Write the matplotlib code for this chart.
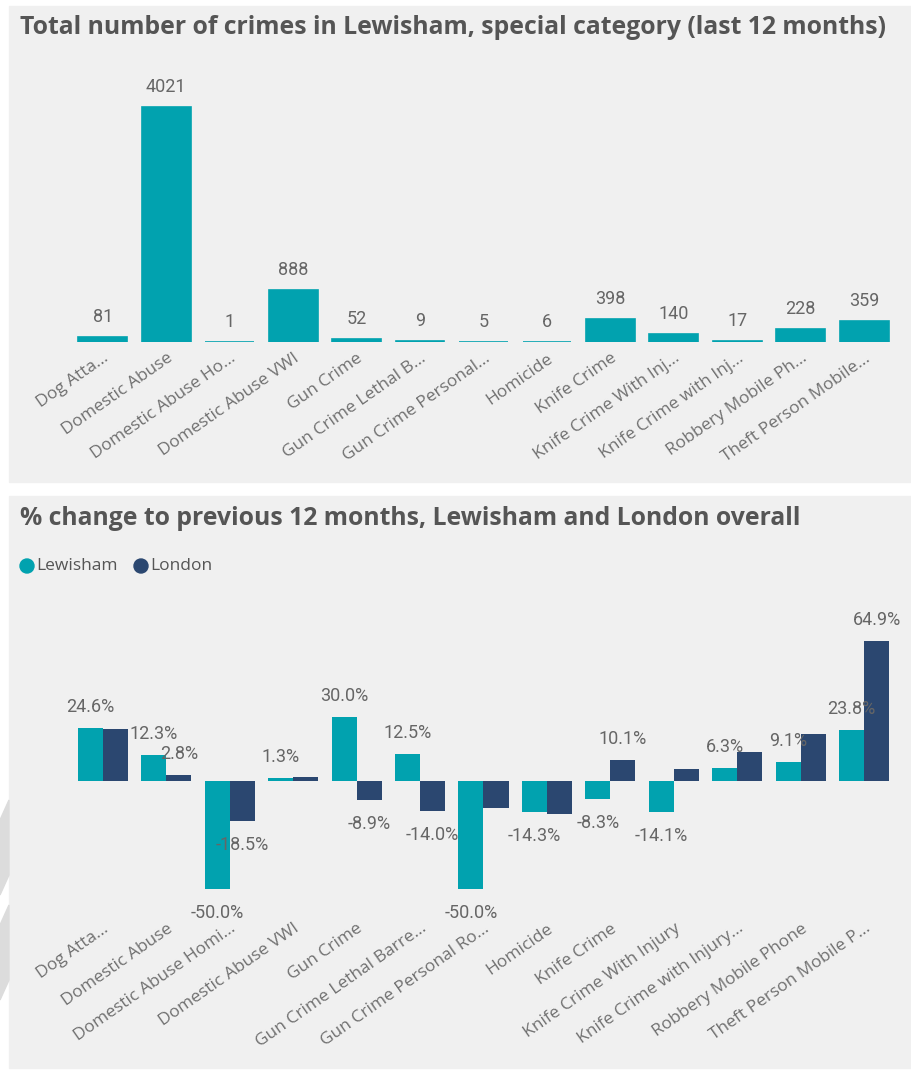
import matplotlib.pyplot as plt
import numpy as np
from matplotlib.patches import Rectangle, Polygon, Ellipse

# Data
top_labels = ["Dog Atta...", "Domestic Abuse", "Domestic Abuse Ho...", "Domestic Abuse VWI",
              "Gun Crime", "Gun Crime Lethal B...", "Gun Crime Personal...", "Homicide",
              "Knife Crime", "Knife Crime With Inj...", "Knife Crime with Inj...",
              "Robbery Mobile Ph...", "Theft Person Mobile..."]
crime_counts = [81, 4021, 1, 888, 52, 9, 5, 6, 398, 140, 17, 228, 359]

bottom_labels = ["Dog Atta...", "Domestic Abuse", "Domestic Abuse Homi...", "Domestic Abuse VWI",
                 "Gun Crime", "Gun Crime Lethal Barre...", "Gun Crime Personal Ro...", "Homicide",
                 "Knife Crime", "Knife Crime With Injury", "Knife Crime with Injury...",
                 "Robbery Mobile Phone", "Theft Person Mobile P..."]
lewisham_pct = [24.6, 12.3, -50.0, 1.3, 30.0, 12.5, -50.0, -14.3, -8.3, -14.1, 6.3, 9.1, 23.8]
london_pct = [24.2, 2.8, -18.5, 2.0, -8.9, -14.0, -12.3, -15.0, 10.1, 5.8, 13.8, 22.0, 64.9]
# London data labels that Power BI showed (others were hidden by overlap)
london_label_shown = [False, True, True, False, True, True, False, False, True, False, False, False, True]

TEAL = "#01A2AF"
NAVY = "#2B4770"
PANEL = "#F0F0F0"
TITLE_C = "#555555"
LABEL_C = "#707070"

W, H = 912, 1071
fig = plt.figure(figsize=(W / 100, H / 100), dpi=100, facecolor="white")


def fx(px):
    return px / W


def fy(py):
    return 1 - py / H


# light grey panels behind each visual
fig.patches.append(Rectangle((fx(9), fy(482)), fx(903), (482 - 6) / H,
                             transform=fig.transFigure, color=PANEL, zorder=-2))
fig.patches.append(Rectangle((fx(9), fy(1068)), fx(903), (1068 - 496) / H,
                             transform=fig.transFigure, color=PANEL, zorder=-2))
# faint decoration at the left edge of the page
for y0 in (800, 905):
    fig.patches.append(Polygon([(fx(0), fy(y0 + 20)), (fx(9), fy(y0)), (fx(9), fy(y0 + 75)),
                                (fx(0), fy(y0 + 95))], closed=True, transform=fig.transFigure,
                               color="#DCDCDC", zorder=-2))

x = np.arange(len(top_labels))
tick_font = dict(family=["Open Sans", "DejaVu Sans"], size=12.5, color=LABEL_C)
value_font = dict(family=["Roboto", "DejaVu Sans"], size=13, color="#666666")

# ---- top chart: total number of crimes ----
ax1 = fig.add_axes([fx(71), fy(342), fx(896 - 71), (342 - 73) / H])
ax1.set_facecolor("none")
# thin edge keeps the tiny counts visible, like Power BI does
ax1.bar(x, crime_counts, width=0.77, color=TEAL, edgecolor=TEAL, linewidth=1.2)
ax1.set_xlim(-0.5, len(x) - 0.5)
ax1.set_ylim(0, 4600)
for xi, v in zip(x, crime_counts):
    ax1.annotate(str(v), (xi, v), xytext=(0, 20), textcoords="offset pixels",
                 ha="center", va="center", **value_font)
ax1.set_xticks(x)
ax1.set_xticklabels(top_labels, rotation=35, ha="right", rotation_mode="anchor", **tick_font)
ax1.tick_params(axis="x", length=0, pad=6)
ax1.set_yticks([])
for s in ax1.spines.values():
    s.set_visible(False)

fig.text(fx(20), fy(28), "Total number of crimes in Lewisham, special category (last 12 months)",
         family=["Open Sans", "DejaVu Sans"], weight="bold", size=17.8, color=TITLE_C,
         ha="left", va="center")

# ---- bottom chart: % change ----
ax2 = fig.add_axes([fx(71), fy(915), fx(896 - 71), (915 - 626) / H])
ax2.set_facecolor("none")
bw = 0.395
ax2.bar(x - bw / 2, lewisham_pct, width=bw, color=TEAL, label="Lewisham")
ax2.bar(x + bw / 2, london_pct, width=bw, color=NAVY, label="London")
ax2.set_xlim(-0.5, len(x) - 0.5)
ax2.set_ylim(-62, 72)


def pct_label(ax, xi, v):
    off = 21 if v >= 0 else -24
    ax.annotate(f"{v:.1f}%", (xi, v), xytext=(0, off), textcoords="offset pixels",
                ha="center", va="center", annotation_clip=False, **value_font)


for xi, v in zip(x, lewisham_pct):
    pct_label(ax2, xi - bw / 2, v)
for xi, v, show in zip(x, london_pct, london_label_shown):
    if show:
        pct_label(ax2, xi + bw / 2, v)

ax2.set_xticks(x)
ax2.set_xticklabels(bottom_labels, rotation=35, ha="right", rotation_mode="anchor", **tick_font)
ax2.tick_params(axis="x", length=0, pad=4)
ax2.set_yticks([])
for s in ax2.spines.values():
    s.set_visible(False)

fig.text(fx(20), fy(518), "% change to previous 12 months, Lewisham and London overall",
         family=["Open Sans", "DejaVu Sans"], weight="bold", size=17.8, color=TITLE_C,
         ha="left", va="center")

# legend drawn by hand, Power BI style
leg_font = dict(family=["Open Sans", "DejaVu Sans"], size=12.5, color="#555555",
                ha="left", va="center")
fig.patches.append(Ellipse((fx(27), fy(566)), 14 / W, 14 / H, transform=fig.transFigure, color=TEAL))
fig.text(fx(36), fy(566), "Lewisham", **leg_font)
fig.patches.append(Ellipse((fx(141), fy(566)), 14 / W, 14 / H, transform=fig.transFigure, color=NAVY))
fig.text(fx(150), fy(566), "London", **leg_font)

fig.savefig("out.png", dpi=100, facecolor="white")
